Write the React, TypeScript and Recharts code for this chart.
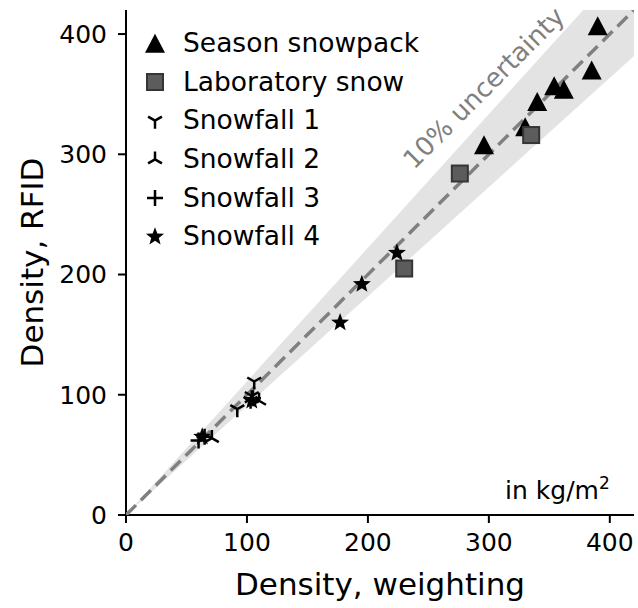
import React from "react";
import { ScatterChart, Scatter, XAxis, YAxis, ReferenceDot } from "recharts";

const TICKS = [0, 100, 200, 300, 400];
const AXIS_MAX = 420;
const UNCERTAINTY = 0.1;

const SEASON_X = [296, 330, 340, 354, 362, 385, 390];
const SEASON_Y = [308, 323, 344, 357, 354, 370, 407];
const LAB_X = [230, 276, 335];
const LAB_Y = [205, 284, 316];
const SNOW1_X = [106, 92, 104, 103];
const SNOW1_Y = [111, 88, 99, 95];
const SNOW2_X = [110, 71, 104];
const SNOW2_Y = [95, 64, 97];
const SNOW3_X = [60, 65, 105];
const SNOW3_Y = [62, 65, 97];
const SNOW4_X = [63, 104, 177, 195, 224];
const SNOW4_Y = [65, 95, 160, 192, 218];

const FONT = "DejaVu Sans";

type P = { cx?: number; cy?: number };

const Triangle = ({ cx = 0, cy = 0 }: P) => (
  <polygon points={`${cx},${cy - 9.5} ${cx - 10},${cy + 9.5} ${cx + 10},${cy + 9.5}`} fill="#000" />
);

const Square = ({ cx = 0, cy = 0 }: P) => (
  <rect x={cx - 8} y={cy - 8} width={16} height={16} fill="#5c5c5c" stroke="#353535" strokeWidth={2} />
);

const tri = (cx: number, cy: number, r: number, dir: number) =>
  `M${cx},${cy}L${cx},${cy + dir * r}M${cx},${cy}L${cx - 0.866 * r},${cy - dir * 0.5 * r}M${cx},${cy}L${cx + 0.866 * r},${cy - dir * 0.5 * r}`;

const TriDown = ({ cx = 0, cy = 0 }: P) => (
  <path d={tri(cx, cy, 8, 1)} stroke="#000" strokeWidth={2.5} fill="none" />
);

const TriUp = ({ cx = 0, cy = 0 }: P) => (
  <path d={tri(cx, cy, 8, -1)} stroke="#000" strokeWidth={2.5} fill="none" />
);

const Plus = ({ cx = 0, cy = 0 }: P) => (
  <path d={`M${cx - 8},${cy}H${cx + 8}M${cx},${cy - 8}V${cy + 8}`} stroke="#000" strokeWidth={2.5} fill="none" />
);

const Star = ({ cx = 0, cy = 0 }: P) => {
  const pts: string[] = [];
  for (let i = 0; i < 10; i++) {
    const r = i % 2 === 0 ? 9.5 : 4;
    const a = -Math.PI / 2 + (i * Math.PI) / 5;
    pts.push(`${cx + r * Math.cos(a)},${cy + r * Math.sin(a)}`);
  }
  return <polygon points={pts.join(" ")} fill="#000" />;
};

const zip = (xs: number[], ys: number[]) => xs.map((x, i) => ({ x, y: ys[i] }));

const SERIES = [
  { name: "Season snowpack", data: zip(SEASON_X, SEASON_Y), Shape: Triangle },
  { name: "Laboratory snow", data: zip(LAB_X, LAB_Y), Shape: Square },
  { name: "Snowfall 1", data: zip(SNOW1_X, SNOW1_Y), Shape: TriDown },
  { name: "Snowfall 2", data: zip(SNOW2_X, SNOW2_Y), Shape: TriUp },
  { name: "Snowfall 3", data: zip(SNOW3_X, SNOW3_Y), Shape: Plus },
  { name: "Snowfall 4", data: zip(SNOW4_X, SNOW4_Y), Shape: Star },
];

// band: weighting within 10% of RFID
const BAND = [
  { x: 0, y: 0 },
  { x: AXIS_MAX, y: AXIS_MAX / (1 - UNCERTAINTY) },
  { x: AXIS_MAX, y: AXIS_MAX / (1 + UNCERTAINTY) },
];
const ONE_TO_ONE = [
  { x: 0, y: 0 },
  { x: AXIS_MAX, y: AXIS_MAX },
];

const BandPolygon = (props: any) => {
  const pts = (props.points || []).map((p: any) => `${p.x},${p.y}`).join(" ");
  return <polygon points={pts} fill="#e3e3e3" stroke="none" />;
};

const DashedLine = (props: any) => {
  const [a, b] = props.points || [];
  if (!a || !b) return <g />;
  return <line x1={a.x} y1={a.y} x2={b.x} y2={b.y} stroke="#808080" strokeWidth={3.5} strokeDasharray="14 7" />;
};

const tickStyle = { fontSize: 25, fill: "#000", fontFamily: FONT };
const axisStyle = { stroke: "#000", strokeWidth: 2 };

export default function App() {
  return (
    <div style={{ position: "fixed", left: 0, top: 0, width: 638, height: 608, background: "#fff", fontFamily: FONT }}>
      <ScatterChart width={638} height={608} margin={{ top: 10, right: 4, left: 0, bottom: 0 }}>
        <XAxis
          type="number"
          dataKey="x"
          domain={[0, AXIS_MAX]}
          ticks={TICKS}
          allowDataOverflow
          height={93}
          tick={tickStyle}
          tickSize={8}
          tickMargin={10}
          axisLine={axisStyle}
          tickLine={axisStyle}
        />
        <YAxis
          type="number"
          dataKey="y"
          domain={[0, AXIS_MAX]}
          ticks={TICKS}
          allowDataOverflow
          width={126}
          tick={tickStyle}
          tickSize={8}
          tickMargin={11}
          axisLine={axisStyle}
          tickLine={axisStyle}
        />
        <Scatter data={BAND} line={<BandPolygon />} shape={() => <g />} isAnimationActive={false} />
        <Scatter data={ONE_TO_ONE} line={<DashedLine />} shape={() => <g />} isAnimationActive={false} />
        {SERIES.map((s) => (
          <Scatter
            key={s.name}
            name={s.name}
            data={s.data}
            shape={(p: any) => <s.Shape cx={p.cx} cy={p.cy} />}
            isAnimationActive={false}
          />
        ))}
        <ReferenceDot
          x={301}
          y={350}
          r={0}
          shape={(p: any) => (
            <text
              x={p.cx}
              y={p.cy}
              transform={`rotate(-45 ${p.cx} ${p.cy})`}
              textAnchor="middle"
              fontSize={26}
              fontFamily={FONT}
              fill="#808080"
            >
              10% uncertainty
            </text>
          )}
        />
        <ReferenceDot
          x={400}
          y={13}
          r={0}
          shape={(p: any) => (
            <text x={p.cx} y={p.cy} textAnchor="end" fontSize={25} fontFamily={FONT} fill="#000">
              in kg/m
              <tspan dy={-10} fontSize={17}>2</tspan>
            </text>
          )}
        />
      </ScatterChart>
      <svg
        width={638}
        height={608}
        style={{ position: "absolute", left: 0, top: 0, pointerEvents: "none" }}
      >
        {SERIES.map((s, i) => {
          const cy = 43.3 + i * 38.7;
          return (
            <g key={s.name}>
              <s.Shape cx={155} cy={cy} />
              <text x={183} y={cy + 8.5} fontSize={26.5} fontFamily={FONT} fill="#000">
                {s.name}
              </text>
            </g>
          );
        })}
        <text x={380} y={595} textAnchor="middle" fontSize={31} fontFamily={FONT} fill="#000">
          Density, weighting
        </text>
        <text
          x={43}
          y={262.5}
          textAnchor="middle"
          transform="rotate(-90 43 262.5)"
          fontSize={31}
          fontFamily={FONT}
          fill="#000"
        >
          Density, RFID
        </text>
      </svg>
    </div>
  );
}
